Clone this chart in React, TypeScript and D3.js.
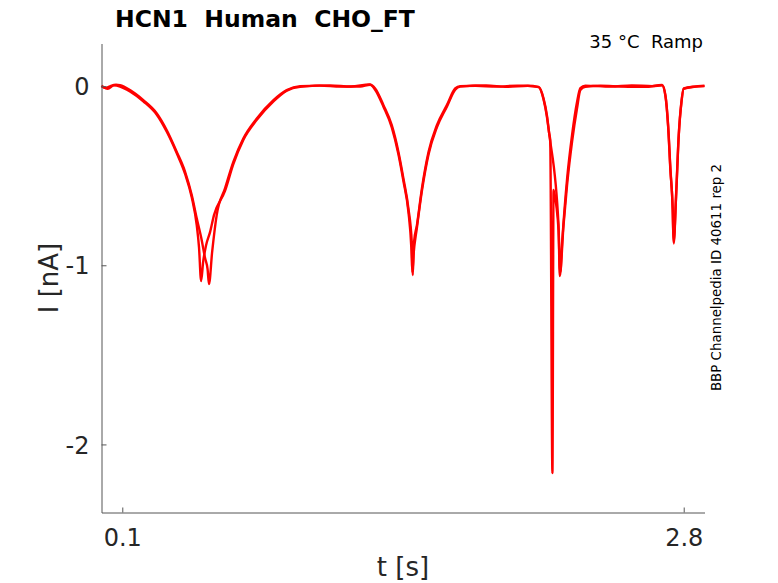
import { useRef, useEffect } from 'react';
import * as d3 from 'd3';

const xTicks = [0.1, 2.8];
const yTicks = [0, -1, -2];

// sweep 1 (carries the sharp spike on the third ramp)
const sweep1T = [
  0, 0.03, 0.06, 0.089, 0.137, 0.201, 0.266, 0.314, 0.362, 0.402, 0.434, 0.458, 0.469, 0.479, 0.489,
  0.503, 0.522, 0.541, 0.594, 0.634, 0.682, 0.747, 0.827, 0.891, 0.955, 1.1, 1.2, 1.29, 1.316, 1.356,
  1.396, 1.428, 1.452, 1.476, 1.49, 1.495, 1.5, 1.517, 1.541, 1.573, 1.613, 1.661, 1.701, 1.725, 1.85,
  1.95, 2.05, 2.102, 2.126, 2.142, 2.153, 2.158, 2.1687, 2.174, 2.187, 2.198, 2.206, 2.216, 2.239, 2.263, 2.287, 2.303,
  2.327, 2.45, 2.55, 2.65, 2.696, 2.712, 2.725, 2.736, 2.747, 2.751, 2.764, 2.776, 2.789, 2.8, 2.9,
];
const sweep1I = [
  0.003, -0.015, 0.004, -0.002, -0.03, -0.085, -0.16, -0.255, -0.375, -0.49, -0.62, -0.776, -0.9, -1.088, -0.98,
  -0.888, -0.815, -0.72, -0.585, -0.435, -0.3, -0.188, -0.085, -0.025, -0.004, 0.004, -0.002, 0.01, -0.02, -0.115,
  -0.23, -0.38, -0.53, -0.7, -0.9, -1.04, -0.95, -0.79, -0.585, -0.38, -0.23, -0.115, -0.02, -0.003, 0.004,
  -0.004, 0.002, -0.006, -0.075, -0.17, -0.264, -0.3, -2.16, -0.58, -0.664, -0.804, -1.038, -0.86, -0.52, -0.274, -0.089, -0.011,
  0.003, -0.003, 0.004, 0.0, 0.004, -0.055, -0.225, -0.47, -0.69, -0.87, -0.6, -0.28, -0.092, -0.015, 0.002,
];

// sweep 2
const sweep2T = [
  0, 0.02, 0.045, 0.07, 0.089, 0.137, 0.201, 0.266, 0.314, 0.362, 0.402, 0.434, 0.458, 0.482, 0.498,
  0.51, 0.517, 0.532, 0.554, 0.594, 0.634, 0.682, 0.747, 0.827, 0.891, 0.955, 1.05, 1.15, 1.244, 1.292,
  1.316, 1.356, 1.396, 1.428, 1.452, 1.476, 1.492, 1.497, 1.503, 1.517, 1.541, 1.573, 1.613, 1.661, 1.701,
  1.725, 1.8, 1.9, 2.0, 2.102, 2.126, 2.142, 2.153, 2.198, 2.204, 2.222, 2.239, 2.263, 2.287, 2.303,
  2.327, 2.4, 2.5, 2.615, 2.696, 2.712, 2.725, 2.736, 2.747, 2.752, 2.764, 2.776, 2.789, 2.8, 2.85, 2.9,
];
const sweep2I = [
  0, -0.01, 0.002, 0.008, 0.005, -0.022, -0.078, -0.152, -0.246, -0.367, -0.478, -0.608, -0.738, -0.86, -0.96,
  -1.02, -1.105, -0.927, -0.72, -0.571, -0.423, -0.292, -0.18, -0.078, -0.022, 0, 0.003, -0.003, -0.002, 0.008,
  -0.013, -0.106, -0.218, -0.367, -0.515, -0.683, -0.869, -1.055, -0.87, -0.776, -0.571, -0.367, -0.218, -0.106, -0.013,
  0, 0.002, -0.003, 0.003, -0.004, -0.069, -0.162, -0.264, -0.776, -1.06, -0.776, -0.553, -0.311, -0.124, -0.022,
  -0.004, 0.002, -0.002, -0.004, 0.006, -0.05, -0.218, -0.459, -0.683, -0.878, -0.59, -0.274, -0.088, -0.013, -0.003, 0,
];

const sweeps = [
  { t: sweep1T, i: sweep1I },
  { t: sweep2T, i: sweep2I },
];

const FONT = '"DejaVu Sans", sans-serif';
const INK = '#262626';

export default function App() {
  const svgRef = useRef<SVGSVGElement>(null);

  useEffect(() => {
    if (!svgRef.current) return;
    const svg = d3.select(svgRef.current);
    svg.selectAll('*').remove();

    const left = 101.5;
    const right = 704.5;
    const top = 43.5;
    const bottom = 512.5;

    const x = d3.scaleLinear().domain([0, 2.9]).range([left, right]);
    const y = d3.scaleLinear().domain([-2.38, 0.238]).range([bottom, top]);

    const line = d3.line<[number, number]>()
      .x((d) => x(d[0]))
      .y((d) => y(d[1]))
      .curve(d3.curveMonotoneX);

    // traces
    sweeps.forEach((s) => {
      const pts = s.t.map((t, k) => [t, s.i[k]] as [number, number]);
      svg.append('path')
        .datum(pts)
        .attr('d', line)
        .attr('fill', 'none')
        .attr('stroke', '#ff0000')
        .attr('stroke-width', 2.4)
        .attr('stroke-linejoin', 'round');
    });

    // X axis
    const gx = svg.append('g')
      .attr('transform', `translate(0,${bottom})`)
      .call(
        d3.axisBottom(x)
          .tickValues(xTicks)
          .tickFormat((d) => d3.format('.1f')(d as number))
          .tickSizeInner(-5)
          .tickSizeOuter(0)
          .tickPadding(16)
      );

    // Y axis
    const gy = svg.append('g')
      .attr('transform', `translate(${left},0)`)
      .call(
        d3.axisLeft(y)
          .tickValues(yTicks)
          .tickFormat((d) => String(d))
          .tickSizeInner(-5)
          .tickSizeOuter(0)
          .tickPadding(12)
      );

    [gx, gy].forEach((g) => {
      g.attr('font-size', '24px').attr('font-family', FONT);
      g.select('.domain').attr('stroke', '#555');
      g.selectAll('.tick line').attr('stroke', '#555');
      g.selectAll('.tick text').attr('fill', INK);
    });
    gy.selectAll('.tick text').attr('dy', '0.36em');

    // titles and labels
    svg.append('text')
      .attr('x', 115)
      .attr('y', 27)
      .attr('font-family', FONT)
      .attr('font-weight', 'bold')
      .attr('font-size', '23.5px')
      .attr('fill', 'black')
      .style('white-space', 'pre')
      .text('HCN1  Human  CHO_FT');

    svg.append('text')
      .attr('x', 703)
      .attr('y', 48)
      .attr('text-anchor', 'end')
      .attr('font-family', FONT)
      .attr('font-size', '18px')
      .attr('fill', 'black')
      .style('white-space', 'pre')
      .text('35 °C  Ramp');

    svg.append('text')
      .attr('x', (left + right) / 2)
      .attr('y', 576)
      .attr('text-anchor', 'middle')
      .attr('font-family', FONT)
      .attr('font-size', '26px')
      .attr('fill', INK)
      .text('t [s]');

    svg.append('text')
      .attr('transform', `translate(58,${(top + bottom) / 2}) rotate(-90)`)
      .attr('text-anchor', 'middle')
      .attr('font-family', FONT)
      .attr('font-size', '26px')
      .attr('fill', INK)
      .text('I [nA]');

    svg.append('text')
      .attr('transform', `translate(721,277.5) rotate(-90)`)
      .attr('text-anchor', 'middle')
      .attr('font-family', FONT)
      .attr('font-size', '13.4px')
      .attr('fill', 'black')
      .text('BBP Channelpedia ID 40611 rep 2');
  }, []);

  return (
    <svg
      ref={svgRef}
      width={778}
      height={583}
      viewBox="0 0 778 583"
      style={{ position: 'absolute', left: 0, top: 0, background: 'white', display: 'block' }}
      role="img"
      aria-label="HCN1 ramp current trace"
    />
  );
}
